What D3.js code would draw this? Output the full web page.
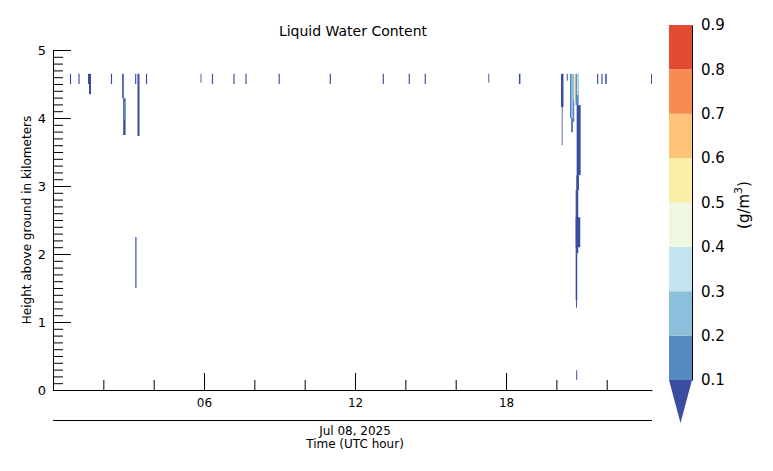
<!DOCTYPE html>
<html><head><meta charset="utf-8">
<script src="https://cdn.jsdelivr.net/npm/d3@7"></script>
<style>
body{margin:0;background:#fff}
text{font-family:"DejaVu Sans",sans-serif;fill:#000}
</style>
</head><body>
<svg id="chart" width="773" height="471"></svg>
<script>
// ---------- data ----------
const timeDomain = [0, 23.8];          // UTC hours shown
const heightDomain = [0, 5];           // km
const xMajorTicks = [6, 12, 18];
const xMajorLabels = ["06", "12", "18"];
const xMinorTicks = [2, 4, 8, 10, 14, 16, 20, 22];
const yMajorTicks = [0, 1, 2, 3, 4, 5];
const yMinorTicks = d3.range(1, 50).filter(d => d % 10 !== 0).map(d => d / 10);
const cbBounds = [0.1, 0.2, 0.3, 0.4, 0.5, 0.6, 0.7, 0.8, 0.9];
const cbLabels = ["0.1", "0.2", "0.3", "0.4", "0.5", "0.6", "0.7", "0.8", "0.9"];
const cbColors = ["#3a4da0", "#5689c0", "#8bbfdb", "#c3e3ee", "#eef7e0", "#fdeea7", "#fdc379", "#f88c50", "#e24a33"];
const titleText = "Liquid Water Content";
const yLabelText = "Height above ground in kilometers";
const dateText = "Jul 08, 2025";
const xLabelText = "Time (UTC hour)";

// retrieved LWC cells: start hour, end hour, base km, top km, value g/m3
const segStart = [0.672,1.010,2.301,3.263,3.692,5.862,6.314,7.168,7.645,8.963,10.994,13.100,14.133,14.768,17.296,18.512,20.413,21.618,21.789,21.941,23.762,
  1.391,1.430, 2.748,2.790,2.820, 3.357, 3.270,
  20.183,20.215,20.540,20.592,20.620,20.640,20.711,20.739,20.763,20.819,20.806,20.790,20.767,20.767,20.767,20.779,20.787];
const segEnd = [0.718,1.056,2.347,3.309,3.738,5.898,6.360,7.214,7.691,9.009,11.040,13.146,14.179,14.814,17.332,18.572,20.453,21.664,21.835,22.001,23.800,
  1.510,1.510, 2.812,2.884,2.870, 3.437, 3.317,
  20.282,20.247,20.608,20.652,20.711,20.711,20.739,20.763,20.886,20.879,20.965,20.898,20.870,20.949,20.831,20.819,20.827];
const segBase = [4.50,4.50,4.50,4.50,4.50,4.52,4.50,4.50,4.50,4.50,4.50,4.50,4.50,4.50,4.52,4.50,4.55,4.50,4.50,4.50,4.50,
  4.50,4.35, 4.29,3.75,3.97, 3.735, 1.50,
  4.16,3.60,4.00,3.79,4.26,3.94,4.24,4.26,4.19,4.34,3.16,2.94,2.01,2.10,1.32,1.21,0.15];
const segTop = [4.65,4.65,4.65,4.65,4.65,4.65,4.65,4.65,4.65,4.65,4.65,4.65,4.65,4.65,4.65,4.65,4.65,4.65,4.65,4.65,4.65,
  4.65,4.50, 4.65,4.29,4.25, 4.65, 2.25,
  4.65,4.16,4.65,4.00,4.65,4.26,4.65,4.65,4.65,4.65,4.19,3.16,2.94,2.54,2.01,1.32,0.29];
const segLWC = [0.05,0.05,0.05,0.05,0.05,0.05,0.05,0.05,0.05,0.05,0.05,0.05,0.05,0.05,0.05,0.05,0.05,0.05,0.05,0.05,0.05,
  0.05,0.05, 0.05,0.05,0.15, 0.05, 0.05,
  0.05,0.05,0.15,0.05,0.25,0.15,0.55,0.65,0.15,0.35,0.05,0.05,0.05,0.05,0.05,0.05,0.05];

// ---------- drawing ----------
const svg = d3.select("#chart");
const x = d3.scaleLinear().domain(timeDomain).range([53, 652]);
const y = d3.scaleLinear().domain(heightDomain).range([390, 50]);
const color = d3.scaleThreshold().domain(cbBounds.slice(0, -1)).range(cbColors);

// cells
const cells = segStart.map((s, i) => ({s, e: segEnd[i], b: segBase[i], t: segTop[i], v: segLWC[i]}));
svg.append("g").selectAll("rect").data(cells).join("rect")
  .attr("x", d => x(d.s)).attr("width", d => x(d.e) - x(d.s))
  .attr("y", d => y(d.t)).attr("height", d => y(d.b) - y(d.t))
  .attr("fill", d => color(d.v));

// y axis
const yAxisMajor = d3.axisLeft(y).tickValues(yMajorTicks).tickSizeInner(-18).tickSizeOuter(0).tickPadding(7).tickFormat(d3.format("d"));
const gy = svg.append("g").attr("transform", "translate(53,0)").call(yAxisMajor);
gy.selectAll("text").style("font-size", "13px");
const gyMinor = svg.append("g").attr("transform", "translate(53,0)")
  .call(d3.axisLeft(y).tickValues(yMinorTicks).tickSizeInner(-10).tickSizeOuter(0).tickFormat(""));
gyMinor.select(".domain").remove();

// x axis
const xAxisMajor = d3.axisBottom(x).tickValues(xMajorTicks).tickSizeInner(-17).tickSizeOuter(0).tickPadding(8)
  .tickFormat((d, i) => xMajorLabels[i]);
const gx = svg.append("g").attr("transform", "translate(0,390)").call(xAxisMajor);
gx.selectAll("text").style("font-size", "12px");
const gxMinor = svg.append("g").attr("transform", "translate(0,390)")
  .call(d3.axisBottom(x).tickValues(xMinorTicks).tickSizeInner(-10).tickSizeOuter(0).tickFormat(""));
gxMinor.select(".domain").remove();
svg.selectAll(".tick line").attr("stroke", "#000");
svg.selectAll(".domain").attr("stroke", "#000");

// date line & labels
svg.append("line").attr("x1", x(timeDomain[0])).attr("x2", x(timeDomain[1])).attr("y1", 420.5).attr("y2", 420.5).attr("stroke", "#000");
svg.append("text").attr("x", x(12)).attr("y", 435).attr("text-anchor", "middle").style("font-size", "12px").text(dateText);
svg.append("text").attr("x", x(12)).attr("y", 448).attr("text-anchor", "middle").style("font-size", "12px").text(xLabelText);

// title & y label
svg.append("text").attr("x", 353).attr("y", 36).attr("text-anchor", "middle").style("font-size", "14px").text(titleText);
svg.append("text").attr("transform", "translate(31,220) rotate(-90)").attr("text-anchor", "middle").style("font-size", "12px").text(yLabelText);

// colorbar
const cbX = 669, cbW = 23;
const cb = d3.scaleLinear().domain([cbBounds[0], cbBounds[cbBounds.length - 1]]).range([380, 25]);
const bins = d3.pairs(cbBounds);
svg.append("g").selectAll("rect").data(bins).join("rect")
  .attr("x", cbX).attr("width", cbW)
  .attr("y", d => cb(d[1])).attr("height", d => cb(d[0]) - cb(d[1]))
  .attr("fill", d => color((d[0] + d[1]) / 2));
svg.append("path")
  .attr("d", `M${cbX},${cb(cbBounds[0])}L${cbX + cbW},${cb(cbBounds[0])}L${cbX + cbW / 2},423Z`)
  .attr("fill", color(0.05));
const gcb = svg.append("g").attr("transform", `translate(${cbX + cbW},0)`)
  .call(d3.axisRight(cb).tickValues(cbBounds).tickSizeInner(0).tickSizeOuter(0).tickPadding(9).tickFormat((d, i) => cbLabels[i]));
gcb.selectAll("text").style("font-size", "15px");
gcb.select(".domain").attr("stroke", "#000");

const unit = svg.append("text").attr("transform", "translate(749,205) rotate(-90)").attr("text-anchor", "middle").style("font-size", "15px");
unit.append("tspan").text("(g/m");
unit.append("tspan").attr("dy", -7).style("font-size", "11px").text("3");
unit.append("tspan").attr("dy", 7).text(")");
</script>
</body></html>
